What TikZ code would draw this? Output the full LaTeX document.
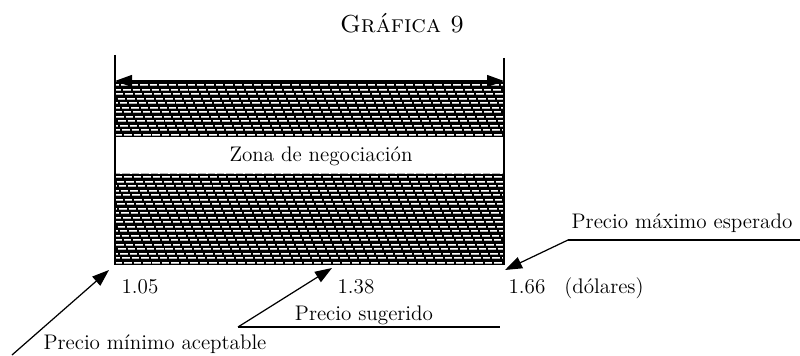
\documentclass[tikz,border=0pt]{standalone}
\usepackage{tikz}
\usetikzlibrary{arrows.meta}
\tikzset{
    bigtip/.tip={Triangle[length=0.34cm,width=0.24cm]},
    lbl/.style={anchor=base,inner sep=0pt,font=\fontsize{12}{14}\selectfont},
    bar/.style={gray!60,line width=0.045cm,dash pattern=on 0.15cm off 0.04cm},
    shine/.style={white,line width=0.014cm,dash pattern=on 0.15cm off 0.04cm}
}

\begin{document}
\begin{tikzpicture}[line width=0.7pt]
    \useasboundingbox (0,0) rectangle (16,7.1);

    \node[lbl,font=\fontsize{14}{16}\selectfont] (title) at (8.04,6.44) {\textsc{Gráfica 9}};

    % Borders of the zone
    \coordinate (lefttop) at (2.30,6.00);
    \coordinate (leftbot) at (2.30,1.80);
    \coordinate (righttop) at (10.08,5.94);
    \coordinate (rightbot) at (10.08,1.80);

    % Hatched bands
    \foreach \ya/\yb/\n in {1.80/3.62/20, 4.36/5.46/12} {
        \begin{scope}
            \clip (2.30,\ya) rectangle (10.08,\yb);
            \fill[black] (2.30,\ya) rectangle (10.08,\yb);
            \foreach \i in {0,...,\n} {
                \pgfmathsetmacro\ph{0.04*\i}
                \pgfmathsetmacro\yy{\ya+0.09*\i+0.045}
                \draw[bar,dash phase=\ph cm] (2.1,\yy) -- (10.3,\yy);
                \draw[shine,dash phase=\ph cm] (2.1,\yy+0.012) -- (10.3,\yy+0.012);
            }
        \end{scope}
    }
    \node[lbl] (zona) at (6.42,3.87) {Zona de negociación};

    \draw (lefttop) -- (leftbot);
    \draw (righttop) -- (rightbot);
    \coordinate (arrL) at (2.30,5.48);
    \coordinate (arrR) at (10.08,5.48);
    \draw[{bigtip}-{bigtip}] (arrL) -- (arrR);

    % Prices
    \node[lbl] (p105) at (2.80,1.24) {1.05};
    \node[lbl] (p138) at (7.12,1.24) {1.38};
    \node[lbl] (p166) at (10.54,1.24) {1.66};
    \node[lbl] (dolares) at (12.08,1.24) {(dólares)};

    % Maximum
    \node[lbl] (maximo) at (13.64,2.54) {Precio máximo esperado};
    \coordinate (maxA) at (11.36,2.30);
    \coordinate (maxB) at (16.00,2.30);
    \coordinate (maxTip) at (10.10,1.70);
    \draw (maxA) -- (maxB);
    \draw[-{bigtip}] (maxA) -- (maxTip);

    % Suggested
    \node[lbl] (sugerido) at (7.28,0.70) {Precio sugerido};
    \coordinate (sugA) at (4.76,0.56);
    \coordinate (sugB) at (10.00,0.56);
    \coordinate (sugTip) at (6.64,1.74);
    \draw (sugA) -- (sugB);
    \draw[-{bigtip}] (sugA) -- (sugTip);

    % Minimum
    \node[lbl] (minimo) at (3.10,0.12) {Precio mínimo aceptable};
    \coordinate (minA) at (0.24,0.00);
    \coordinate (minTip) at (2.18,1.70);
    \draw[-{bigtip}] (minA) -- (minTip);
\end{tikzpicture}
\end{document}
